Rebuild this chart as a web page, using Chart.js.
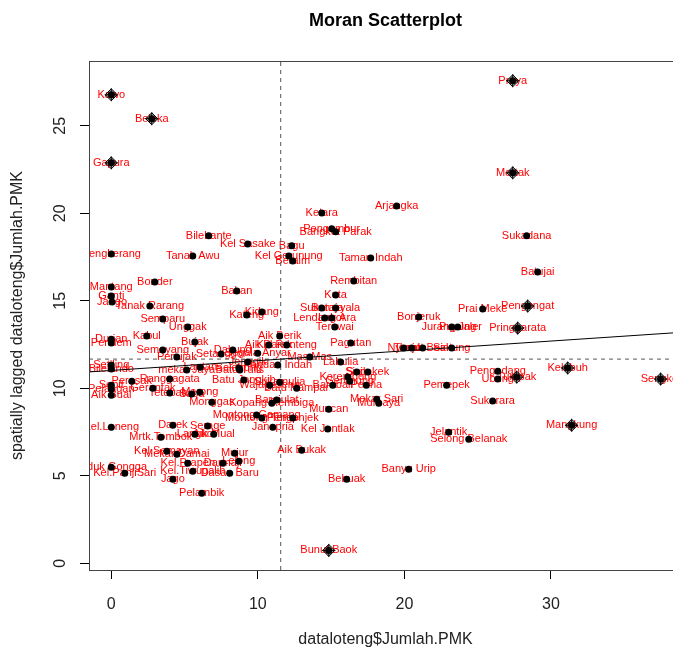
<!DOCTYPE html>
<html>
<head>
<meta charset="utf-8">
<title>Moran Scatterplot</title>
<script src="https://cdn.jsdelivr.net/npm/chart.js@4.4.1/dist/chart.umd.min.js"></script>
<style>
  html, body { margin: 0; padding: 0; overflow: hidden; background: #fff; }
</style>
</head>
<body>
<canvas id="moran" width="700" height="648"></canvas>
<script>
// nama desa / kelurahan (label merah di tiap titik)
const desa = [
  'Kawo', 'Beleka', 'Gapura', 'Praya', 'Mertak', 'Arjangka', 'Ketara', 'Pengembur', 'Bangket Parak', 'Sukadana',
  'Bilebante', 'Kel Sasake', 'Bagu', 'Tanak Awu', 'Kel Gerunung', 'Beraim', 'Taman Indah', 'Sengkerang', 'Batujai', 'Rembitan',
  'Bonder', 'Mantang', 'Bakan', 'Kuta', 'Ganti', 'Jango', 'Tanak Rarang', 'Pengengat', 'Sukaraja', 'Batunyala',
  'Prai Meke', 'Kidang', 'Kateng', 'Bonjeruk', 'Lendang Ara', 'Lekor', 'Semparu', 'Teruwai', 'Unggak', 'Jurang Jaler',
  'Puyung', 'Pringgarata', 'Kabul', 'Durian', 'Pendem', 'Bujak', 'Aik Berik', 'Aik Darek', 'Kel Renteng', 'Pagutan',
  'Semoyang', 'Dakung', 'Setanggor', 'Segala Anyar', 'Penujak', 'Nyerot', 'Lajut', 'Tanak Beak', 'Sintung', 'Mas Mas',
  'Labulia', 'Setiling', 'Bilelando', 'mekar Jaya', 'Lantan', 'Selebung', 'Jenggik', 'Pandan Indah', 'Batu Tulis', 'Sisik',
  'Sepakek', 'Kerembong', 'Gerunung', 'Perina', 'Barabali', 'Ranggagata', 'Peresak', 'Sepit', 'Pelangan', 'Gerantak',
  'Aik Bual', 'Tetebatu', 'Saba', 'Marong', 'Monggas', 'Batu Jangkih', 'Wajageseng', 'Sukamulia', 'Batu Nampar', 'Barejulat',
  'Kopang Rembiga', 'Montong Gamang', 'Montong Terep', 'Pengenjek', 'Janapria', 'Mekar Sari', 'Murbaya', 'Muncan', 'Kel Jontlak', 'Jelantik',
  'Selong Belanak', 'Aik Bukak', 'Banyu Urip', 'Bebuak', 'Bunut Baok', 'Mangkung', 'Kelebuh', 'Sengkol', 'Pengadang', 'Ubung',
  'Tumpak', 'Pemepek', 'Sukarara', 'Kel.Leneng', 'Darek', 'Serage', 'Langko', 'Aik Mual', 'Mrtk.Tombok', 'Kel.Semayan',
  'Mekar Damai', 'Mujur', 'Kel.Prapen', 'Darmaji', 'Lelong', 'Kel.Tiwugalih', 'Dasan Baru', 'Jago', 'Pelambik', 'Teduk Gongga',
  'Kel.PanjiSari'
];

// dataloteng$Jumlah.PMK (sumbu x)
const jumlahPMK = [
  0, 2.76, 0, 27.39, 27.39, 19.47, 14.36, 15.04, 15.31, 28.34,
  6.65, 9.31, 12.31, 5.56, 12.11, 12.38, 17.70, 0, 29.09, 16.54,
  2.97, 0, 8.56, 15.31, 0, 0.05, 2.63, 28.41, 14.36, 15.31,
  25.34, 10.27, 9.24, 20.98, 14.56, 15.04, 3.51, 15.25, 5.22, 23.23,
  23.64, 27.73, 2.42, 0, 0, 5.70, 11.49, 10.74, 11.97, 16.34,
  3.51, 8.29, 7.49, 9.99, 4.47, 19.95, 20.50, 21.25, 23.23, 13.54,
  15.65, 0, 0, 5.15, 6.07, 8.70, 9.31, 11.36, 8.77, 16.75,
  17.50, 16.14, 16.27, 17.40, 15.11, 3.99, 1.40, 0, 0, 2.84,
  0, 3.99, 5.49, 6.04, 6.86, 9.04, 10.81, 11.49, 12.65, 11.29,
  10.95, 9.92, 10.27, 12.38, 11.02, 18.11, 18.25, 14.84, 14.77, 23.02,
  24.39, 12.99, 20.29, 16.06, 14.84, 31.41, 31.14, 37.48, 26.37, 26.37,
  27.66, 22.88, 26.02, 0, 4.20, 6.58, 5.70, 6.99, 3.38, 3.79,
  4.47, 8.42, 5.22, 7.61, 8.70, 5.56, 8.08, 4.20, 6.17, 0,
  0.92
];

// spatially lagged dataloteng$Jumlah.PMK (sumbu y)
const lagPMK = [
  26.77, 25.40, 22.88, 27.57, 22.31, 20.42, 20.02, 19.11, 18.94, 18.71,
  18.71, 18.25, 18.14, 17.56, 17.56, 17.28, 17.45, 17.68, 16.65, 16.13,
  16.08, 15.79, 15.56, 15.33, 15.27, 14.93, 14.70, 14.70, 14.59, 14.59,
  14.53, 14.36, 14.19, 14.07, 14.02, 14.02, 13.96, 13.50, 13.50, 13.50,
  13.50, 13.44, 12.99, 12.81, 12.59, 12.64, 12.99, 12.47, 12.47, 12.59,
  12.19, 12.19, 11.96, 12.01, 11.79, 12.30, 12.30, 12.30, 12.30, 11.79,
  11.50, 11.33, 11.10, 11.04, 11.21, 11.16, 11.50, 11.33, 11.04, 10.93,
  10.93, 10.64, 10.41, 10.18, 10.18, 10.53, 10.41, 10.18, 9.95, 10.01,
  9.61, 9.73, 9.67, 9.78, 9.21, 10.47, 10.18, 10.35, 10.01, 9.33,
  9.15, 8.47, 8.30, 8.30, 7.78, 9.38, 9.15, 8.81, 7.67, 7.49,
  7.09, 6.46, 5.38, 4.81, 0.74, 7.89, 11.16, 10.53, 10.98, 10.53,
  10.64, 10.18, 9.27, 7.78, 7.89, 7.84, 7.38, 7.38, 7.21, 6.41,
  6.24, 6.29, 5.72, 5.72, 5.84, 5.26, 5.15, 4.81, 4.00, 5.49,
  5.15
];

// titik berpengaruh (ditandai belah ketupat)
const berpengaruh = ['Kawo', 'Beleka', 'Gapura', 'Praya', 'Mertak', 'Pengengat', 'Pringgarata',
  'Bunut Baok', 'Mangkung', 'Kelebuh', 'Sengkol', 'Tumpak'];

const xTicks = [0, 10, 20, 30];
const yTicks = [0, 5, 10, 15, 20, 25];
const xBatas = [-1.52, 38.94];
const yBatas = [-0.38, 28.7];

// garis rata-rata dan garis regresi
const rataX = 11.56;
const rataY = 11.67;
const intersep = 11.02;
const kemiringan = 0.056;

var titik = jumlahPMK.map(function (x, i) { return { x: x, y: lagPMK[i] }; });
var titikPengaruh = [];
desa.forEach(function (d, i) {
  if (berpengaruh.indexOf(d) >= 0) titikPengaruh.push(titik[i]);
});

var fonte = "'Liberation Sans', Arial, sans-serif";

// label merah digambar dulu, titik hitam menimpanya
var labelDesa = {
  id: 'labelDesa',
  beforeDatasetsDraw: function (chart) {
    var ctx = chart.ctx;
    var area = chart.chartArea;
    var meta = chart.getDatasetMeta(0);
    ctx.save();
    ctx.beginPath();
    ctx.rect(area.left, area.top, area.right - area.left, area.bottom - area.top);
    ctx.clip();
    ctx.font = '11px ' + fonte;
    ctx.fillStyle = '#ff0000';
    ctx.textAlign = 'center';
    ctx.textBaseline = 'middle';
    meta.data.forEach(function (el, i) {
      ctx.fillText(desa[i], el.x, el.y);
    });
    ctx.restore();
  }
};

// kotak plot dan judul
var bingkai = {
  id: 'bingkai',
  afterDraw: function (chart) {
    var ctx = chart.ctx;
    var a = chart.chartArea;
    ctx.save();
    ctx.strokeStyle = '#444';
    ctx.lineWidth = 1;
    ctx.strokeRect(Math.round(a.left) + 0.5, Math.round(a.top) + 0.5,
      Math.round(a.right - a.left), Math.round(a.bottom - a.top));
    ctx.fillStyle = '#000';
    ctx.font = 'bold 18px ' + fonte;
    ctx.textAlign = 'center';
    ctx.textBaseline = 'middle';
    ctx.fillText('Moran Scatterplot', (a.left + a.right) / 2, 21);
    ctx.restore();
  }
};

const moran = new Chart(document.getElementById('moran'), {
  type: 'scatter',
  data: {
    datasets: [
      {
        label: 'titik',
        data: titik,
        pointRadius: 3.5,
        pointBackgroundColor: '#000',
        pointBorderColor: '#000',
        pointBorderWidth: 0,
        order: 0
      },
      {
        label: 'belah ketupat',
        data: titikPengaruh,
        pointStyle: 'rectRot',
        pointRadius: 6,
        pointBackgroundColor: 'rgba(0,0,0,0.3)',
        pointBorderColor: '#000',
        pointBorderWidth: 1,
        order: 1
      },
      {
        label: 'silang',
        data: titikPengaruh,
        pointStyle: 'cross',
        pointRadius: 6.5,
        pointBorderColor: '#000',
        pointBorderWidth: 1,
        order: 1
      },
      {
        label: 'regresi',
        data: xBatas.map(function (x) { return { x: x, y: intersep + kemiringan * x }; }),
        showLine: true,
        borderColor: '#000',
        borderWidth: 1,
        pointRadius: 0,
        order: 2
      },
      {
        label: 'rata x',
        data: [{ x: rataX, y: yBatas[0] }, { x: rataX, y: yBatas[1] }],
        showLine: true,
        borderColor: '#555',
        borderWidth: 1,
        borderDash: [4, 4],
        pointRadius: 0,
        order: 2
      },
      {
        label: 'rata y',
        data: [{ x: xBatas[0], y: rataY }, { x: xBatas[1], y: rataY }],
        showLine: true,
        borderColor: '#555',
        borderWidth: 1,
        borderDash: [4, 4],
        pointRadius: 0,
        order: 2
      }
    ]
  },
  options: {
    responsive: false,
    animation: false,
    layout: { padding: { left: 0, top: 61, right: 18, bottom: 0 } },
    scales: {
      x: {
        type: 'linear',
        min: xBatas[0],
        max: xBatas[1],
        afterBuildTicks: function (s) { s.ticks = xTicks.map(function (v) { return { value: v }; }); },
        afterFit: function (s) { s.height = 78; },
        grid: { display: true, drawOnChartArea: false, drawTicks: true, tickLength: 9, color: '#000' },
        border: { display: false },
        ticks: { color: '#222', font: { family: fonte, size: 16 }, padding: 16, maxRotation: 0 },
        title: {
          display: true,
          text: 'dataloteng$Jumlah.PMK',
          color: '#222',
          font: { family: fonte, size: 16, lineHeight: 1 },
          padding: { top: 0, bottom: 0 }
        }
      },
      y: {
        type: 'linear',
        min: yBatas[0],
        max: yBatas[1],
        afterBuildTicks: function (s) { s.ticks = yTicks.map(function (v) { return { value: v }; }); },
        afterFit: function (s) { s.width = 89; },
        grid: { display: true, drawOnChartArea: false, drawTicks: true, tickLength: 9, color: '#000' },
        border: { display: false },
        ticks: { color: '#222', font: { family: fonte, size: 16 }, padding: 11, minRotation: 90, maxRotation: 90, crossAlign: 'center' },
        title: {
          display: true,
          text: 'spatially lagged dataloteng$Jumlah.PMK',
          color: '#222',
          font: { family: fonte, size: 16, lineHeight: 1 },
          padding: { top: 10, bottom: 0 }
        }
      }
    },
    plugins: {
      legend: { display: false },
      tooltip: { enabled: false },
      title: { display: false }
    }
  },
  plugins: [labelDesa, bingkai]
});
</script>
</body>
</html>
